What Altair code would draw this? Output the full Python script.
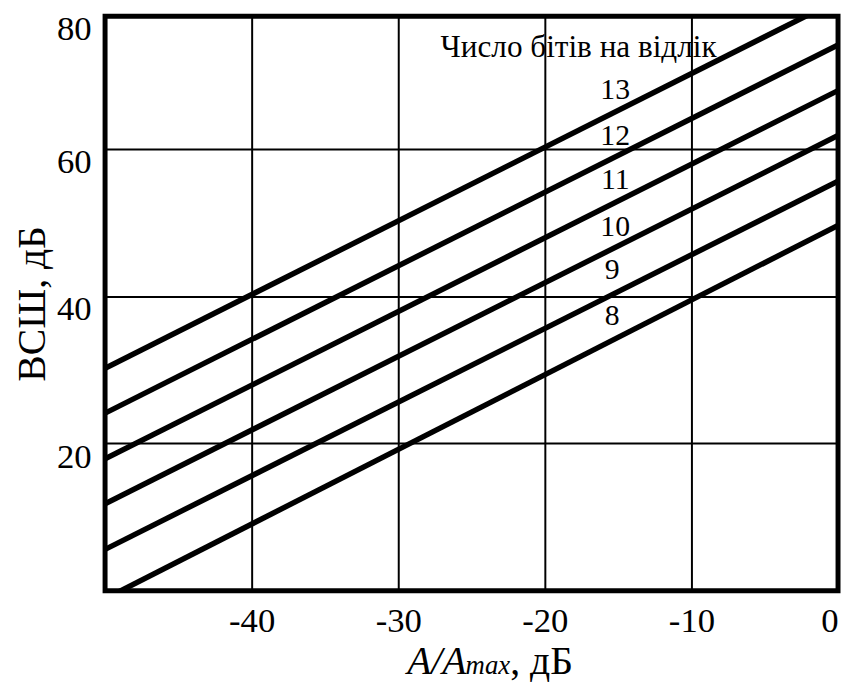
import altair as alt
import pandas as pd

# Data
bits = [8, 9, 10, 11, 12, 13]
x_ends = [-50, 0]
snr_at_left = [-1.1, 5.6, 11.8, 17.9, 24.1, 30.2]   # SNR at A/Amax = -50 dB
snr_at_right = [49.6, 55.6, 61.8, 67.9, 74.1, 80.2]  # SNR at A/Amax = 0 dB

label_x = [-15.4, -15.4, -15.2, -15.2, -15.2, -15.2]
label_y = [37.3, 43.5, 49.3, 55.8, 61.7, 68.0]
legend_title = "Число бітів на відлік"
legend_title_pos = [-17.7, 73.6]

x_ticks = [-40, -30, -20, -10, 0]
y_ticks = [20, 40, 60, 78]

FONT = "Liberation Serif"
W, H = 740, 580

rows = []
for b, l, r in zip(bits, snr_at_left, snr_at_right):
    rows.append({"x": x_ends[0], "y": l, "bits": b})
    rows.append({"x": x_ends[1], "y": r, "bits": b})
df = pd.DataFrame(rows)

lab = pd.DataFrame({"x": label_x, "y": label_y, "t": [str(b) for b in bits]})
ttl = pd.DataFrame({"x": [legend_title_pos[0]], "y": [legend_title_pos[1]], "t": [legend_title]})

xs = alt.Scale(domain=[-50, 0], nice=False, zero=False)
ys = alt.Scale(domain=[0, 78], nice=False, zero=False)

xax = alt.Axis(values=x_ticks, grid=True, gridColor="black", gridWidth=2, gridOpacity=1,
               domain=False, ticks=False, labelFont=FONT, labelFontSize=35, labelColor="black",
               labelPadding=13, labelFlush=True, title=None,
               labelExpr="datum.value == 0 ? '0' : '-' + abs(datum.value)")
yax = alt.Axis(values=y_ticks, grid=True, gridColor="black", gridWidth=2, gridOpacity=1,
               domain=False, ticks=False, labelFont=FONT, labelFontSize=35, labelColor="black",
               labelPadding=14, labelBaseline="middle", labelOffset=13,
               labelExpr="datum.value >= 78 ? '80' : datum.label",
               title="ВСШ, дБ", titleFont=FONT, titleFontSize=40, titleFontWeight="normal",
               titleColor="black", titlePadding=4)

lines = alt.Chart(df).mark_line(clip=True, strokeWidth=5.5, color="black").encode(
    x=alt.X("x:Q", scale=xs, axis=xax),
    y=alt.Y("y:Q", scale=ys, axis=yax),
    detail="bits:N",
)

nums = alt.Chart(lab).mark_text(font=FONT, fontSize=30, color="black", align="center", baseline="middle").encode(
    x=alt.X("x:Q", scale=xs), y=alt.Y("y:Q", scale=ys), text="t:N")

tt = alt.Chart(ttl).mark_text(font=FONT, fontSize=31.5, color="black", align="center", baseline="middle").encode(
    x=alt.X("x:Q", scale=xs), y=alt.Y("y:Q", scale=ys), text="t:N")

one = pd.DataFrame({"a": [0]})
border = alt.Chart(one).mark_rect(fill=None, fillOpacity=0, stroke="black", strokeWidth=5).encode(
    x=alt.value(0), x2=alt.value(W), y=alt.value(0), y2=alt.value(H))

# x-axis title with mixed styling
ty = 664
xt1 = alt.Chart(pd.DataFrame({"t": ["A/A"]})).mark_text(
    font=FONT, fontSize=40, fontStyle="italic", color="black", align="left", baseline="alphabetic"
).encode(x=alt.value(305), y=alt.value(ty), text="t:N")
xt2 = alt.Chart(pd.DataFrame({"t": ["max"]})).mark_text(
    font=FONT, fontSize=27, fontStyle="italic", color="black", align="left", baseline="alphabetic"
).encode(x=alt.value(364), y=alt.value(ty), text="t:N")
xt3 = alt.Chart(pd.DataFrame({"t": [", дБ"]})).mark_text(
    font=FONT, fontSize=40, color="black", align="left", baseline="alphabetic"
).encode(x=alt.value(409), y=alt.value(ty), text="t:N")

chart = alt.layer(lines, border, nums, tt, xt1, xt2, xt3).properties(
    width=W, height=H,
    padding={"left": 5, "top": 1, "right": 0, "bottom": 0},
).configure_view(stroke=None).configure(background="white")

chart.save("out.html", embed_options={"renderer": "svg", "actions": False})
